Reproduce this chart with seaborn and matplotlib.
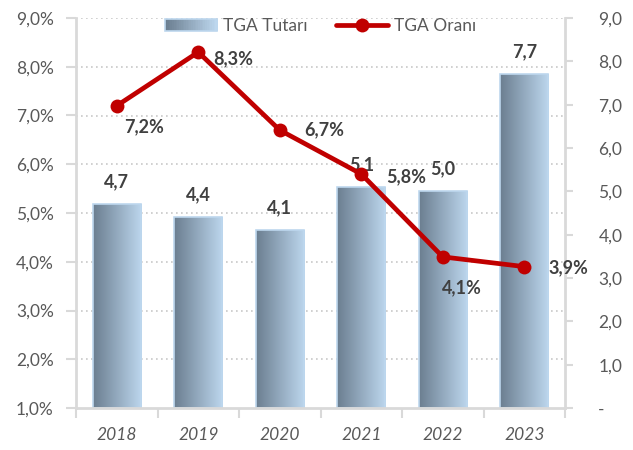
import numpy as np
import pandas as pd
import seaborn as sns
import matplotlib.pyplot as plt
from matplotlib.colors import LinearSegmentedColormap, to_rgb
from matplotlib.patches import Rectangle
from matplotlib.lines import Line2D
from matplotlib.legend_handler import HandlerBase
from matplotlib.ticker import FuncFormatter

# data
years = ["2018", "2019", "2020", "2021", "2022", "2023"]
tga_tutari = [4.7, 4.4, 4.1, 5.1, 5.0, 7.7]
tga_orani = [7.2, 8.3, 6.7, 5.8, 4.1, 3.9]
bar_labels = ["4,7", "4,4", "4,1", "5,1", "5,0", "7,7"]
line_labels = ["7,2%", "8,3%", "6,7%", "5,8%", "4,1%", "3,9%"]
# label offsets (points) for the line values
line_offsets = [(20, -15), (25, -5), (32, 0), (32, -2), (14, -22), (32, -1)]

df = pd.DataFrame({"year": years, "tutar": tga_tutari, "oran": tga_orani})

sns.set_theme(style="white")
plt.rcParams["font.family"] = ["Lato", "DejaVu Sans"]

dark = "#6b7e90"
light = "#bdd7ee"
red = "#c00000"
grey_txt = "#595959"
lab_txt = "#404040"
axis_col = "#d9d9d9"
cmap = LinearSegmentedColormap.from_list("tga", [dark, light])

fig = plt.figure(figsize=(6.33, 4.5), dpi=100)
ax = fig.add_axes([76 / 633, 42 / 450, 489 / 633, 390 / 450])  # bars, right scale
ax2 = ax.twinx()  # line, left scale

sns.barplot(data=df, x="year", y="tutar", ax=ax, width=0.59, color=light,
            edgecolor=light, linewidth=1.2, zorder=3)
ax.set_xlim(-0.5, 5.5)
ax.set_ylim(0, 9)

# gradient fill inside each bar
grad = np.linspace(0, 1, 256).reshape(1, -1)
for p in ax.patches:
    x0, y0 = p.get_x(), p.get_y()
    w, h = p.get_width(), p.get_height()
    im = ax.imshow(grad, extent=[x0, x0 + w, y0, y0 + h], aspect="auto",
                   cmap=cmap, zorder=2.5, interpolation="bicubic")
    im.set_clip_path(p)
    p.set_facecolor("none")
ax.set_xlim(-0.5, 5.5)
ax.set_ylim(0, 9)

for i, v in enumerate(tga_tutari):
    ax.annotate(bar_labels[i], (i, v), xytext=(0, 16), textcoords="offset points",
                ha="center", va="center", fontsize=13, fontweight="bold",
                color=lab_txt, zorder=6)

# line on left scale
sns.lineplot(data=df, x="year", y="oran", ax=ax2, color=red, linewidth=3.4,
             marker="o", markersize=10, markeredgewidth=0, sort=False, zorder=5)
ax2.set_ylim(1, 9)
for i, v in enumerate(tga_orani):
    ax2.annotate(line_labels[i], (i, v), xytext=line_offsets[i], textcoords="offset points",
                 ha="center", va="center", fontsize=13, fontweight="bold",
                 color=lab_txt, zorder=6)

# swap sides: percentage scale on the left, amounts on the right
ax.yaxis.tick_right()
ax.yaxis.set_label_position("right")
ax2.yaxis.tick_left()
ax2.yaxis.set_label_position("left")

ax.set_yticks(np.arange(0, 10, 1))
ax.yaxis.set_major_formatter(FuncFormatter(lambda v, _: "-" if v == 0 else f"{v:.1f}".replace(".", ",")))
ax2.set_yticks(np.arange(1, 10, 1))
ax2.yaxis.set_major_formatter(FuncFormatter(lambda v, _: f"{v:.1f}%".replace(".", ",")))

# dotted grid for the left scale, drawn behind the bars
for v in np.arange(2, 10, 1):
    ax.axhline((v - 1) / 8 * 9, color="#c8c8c8", linestyle=(0, (1, 2)), linewidth=1.2, zorder=1)

for a in (ax, ax2):
    a.set_xlabel("")
    a.set_ylabel("")
    for s in a.spines.values():
        s.set_visible(False)
for s in ("right", "bottom", "left"):
    ax.spines[s].set_visible(True)
    ax.spines[s].set_color(axis_col)
    ax.spines[s].set_linewidth(2)
    ax.spines[s].set_zorder(4)

ax.tick_params(axis="y", which="major", right=True, left=False, length=6, width=1.5,
               color=axis_col, labelsize=12.5, labelcolor=grey_txt, pad=18)
ax2.tick_params(axis="y", which="major", left=True, right=False, length=7, width=1.5,
                color=axis_col, labelsize=12.5, labelcolor=grey_txt, pad=9)

# category ticks between years
ax.set_xticks(np.arange(-0.5, 6, 1), minor=True)
ax.tick_params(axis="x", which="minor", bottom=True, length=7, width=1.5, color=axis_col)
ax.tick_params(axis="x", which="major", bottom=False, length=0, pad=14)
for t in ax.get_xticklabels():
    t.set_fontstyle("italic")
    t.set_fontsize(12.5)
    t.set_color(grey_txt)
ax2.tick_params(axis="x", which="both", bottom=False, labelbottom=False)


class GradientHandler(HandlerBase):
    def create_artists(self, legend, orig_handle, xdescent, ydescent, width, height, fontsize, trans):
        n = 30
        c0, c1 = np.array(to_rgb(dark)), np.array(to_rgb(light))
        arts = []
        for k in range(n):
            col = c0 + (c1 - c0) * k / (n - 1)
            arts.append(Rectangle((-xdescent + width * k / n, -ydescent), width / n + 0.3, height,
                                  facecolor=col, edgecolor="none", transform=trans))
        arts.append(Rectangle((-xdescent, -ydescent), width, height, facecolor="none",
                              edgecolor=light, linewidth=1.2, transform=trans))
        return arts


bar_handle = Rectangle((0, 0), 1, 1)
line_handle = Line2D([], [], color=red, linewidth=3.4, marker="o", markersize=10, markeredgewidth=0)
leg = ax2.legend([bar_handle, line_handle], ["TGA Tutarı", "TGA Oranı"], ncol=2,
                 loc="center", bbox_to_anchor=(0.5, 0.979), frameon=False,
                 handler_map={Rectangle: GradientHandler()}, handlelength=3.0,
                 handleheight=0.65, handletextpad=0.35, columnspacing=1.6,
                 fontsize=12.5, borderpad=0, borderaxespad=0)
for t in leg.get_texts():
    t.set_color(grey_txt)

fig.savefig("out.png", dpi=100)
